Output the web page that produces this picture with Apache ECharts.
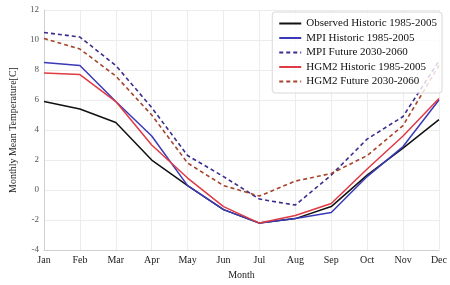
<!DOCTYPE html>
<html><head><meta charset="utf-8">
<script src="https://cdn.jsdelivr.net/npm/echarts@6/dist/echarts.min.js"></script>
<style>html,body{margin:0;padding:0;background:#fff}#c{width:450px;height:285px}</style>
</head><body><div id="c"></div>
<script>
const months = ['Jan','Feb','Mar','Apr','May','Jun','Jul','Aug','Sep','Oct','Nov','Dec'];
const observedHist = [5.9, 5.4, 4.5, 2.0, 0.3, -1.3, -2.2, -1.9, -1.1, 1.0, 2.8, 4.7];
const mpiHist      = [8.5, 8.3, 5.9, 3.6, 0.3, -1.3, -2.2, -1.9, -1.5, 0.9, 2.9, 6.0];
const mpiFuture    = [10.5, 10.2, 8.3, 5.5, 2.3, 0.9, -0.6, -1.0, 1.0, 3.4, 4.9, 8.6];
const hgmHist      = [7.8, 7.7, 5.9, 3.0, 0.8, -1.1, -2.2, -1.7, -0.9, 1.4, 3.6, 6.1];
const hgmFuture    = [10.1, 9.4, 7.6, 5.0, 1.8, 0.3, -0.4, 0.6, 1.1, 2.3, 4.3, 8.3];
const seriesNames = ['Observed Historic 1985-2005','MPI Historic 1985-2005','MPI Future 2030-2060','HGM2 Historic 1985-2005','HGM2 Future 2030-2060'];
const yTicks = [-4, -2, 0, 2, 4, 6, 8, 10, 12];

const font = 'Liberation Serif';
const chart = echarts.init(document.getElementById('c'), null, {renderer:'canvas'});
function mk(name, data, color, type, width){
  return {name, type:'line', data, symbol:'none', showSymbol:false, smooth:false,
    lineStyle:{color, width, type}, itemStyle:{color}};
}
chart.setOption({
  animation:false,
  backgroundColor:'#fff',
  grid:{left:42, right:8, top:10, bottom:27},
  legend:{
    orient:'vertical', right:8, top:12, itemWidth:22, itemHeight:10, itemGap:3.5,
    backgroundColor:'rgba(255,255,255,0.8)', borderColor:'#d8d8d8', borderWidth:1, borderRadius:3,
    padding:[6,5,6,6],
    itemStyle:{opacity:0},
    textStyle:{fontFamily:font, fontSize:11, color:'#111'},
    data: seriesNames
  },
  xAxis:{
    type:'category', data:months, boundaryGap:false,
    name:'Month', nameLocation:'middle', nameGap:14,
    nameTextStyle:{fontFamily:font, fontSize:10, color:'#222'},
    axisLine:{show:true, onZero:false, lineStyle:{color:'#d0d0d0'}},
    axisTick:{show:false},
    axisLabel:{fontFamily:font, fontSize:10, color:'#222', margin:5},
    splitLine:{show:true, lineStyle:{color:'#ececec'}}
  },
  yAxis:{
    type:'value', min:-4, max:12, interval:2,
    name:'Monthly Mean Temperature[C]', nameLocation:'middle', nameGap:26,
    nameTextStyle:{fontFamily:font, fontSize:10, color:'#222'},
    axisLine:{show:true, lineStyle:{color:'#d0d0d0'}},
    axisTick:{show:false},
    axisLabel:{fontFamily:font, fontSize:9, color:'#555', margin:5},
    splitLine:{show:true, lineStyle:{color:'#ececec'}}
  },
  series:[
    mk(seriesNames[0], observedHist, '#111111', 'solid', 1.5),
    mk(seriesNames[1], mpiHist, '#3a3ab8', 'solid', 1.5),
    mk(seriesNames[2], mpiFuture, '#3b2d8c', [4,3], 1.6),
    mk(seriesNames[3], hgmHist, '#e03a44', 'solid', 1.5),
    mk(seriesNames[4], hgmFuture, '#a4452e', [4,3], 1.6)
  ]
});
</script></body></html>
